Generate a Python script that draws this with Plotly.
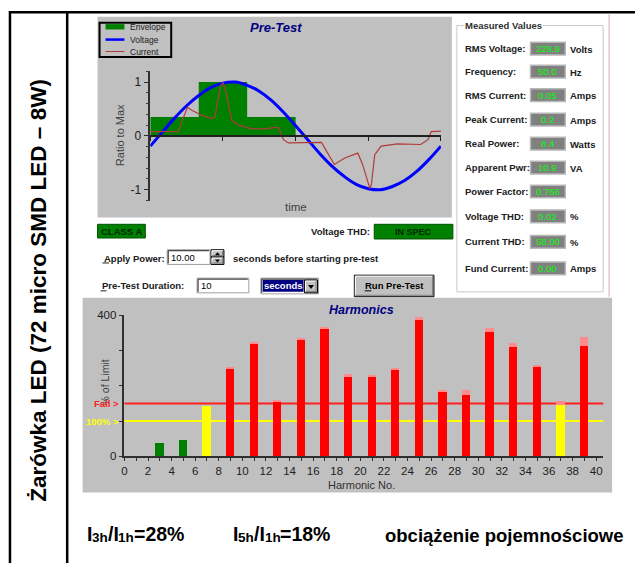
import plotly.graph_objects as go

W, H = 635, 569
SANS = "Liberation Sans, Arial, sans-serif"
NARROW = "Liberation Sans Narrow, Arial Narrow, Liberation Sans, sans-serif"

# ---- Pre-test waveforms: phase angle (deg) vs ratio to max ----
volt_deg = [0, 15, 30, 45, 60, 75, 90, 105, 120, 135, 150, 165, 180,
            195, 210, 225, 240, 255, 270, 285, 300, 315, 330, 345, 360]
volt_ratio = [-0.19, 0.07, 0.33, 0.56, 0.75, 0.90, 0.98, 1.00, 0.94, 0.83, 0.66, 0.44, 0.19,
              -0.07, -0.33, -0.56, -0.75, -0.90, -0.98, -1.00, -0.94, -0.83, -0.66, -0.44, -0.19]
cur_deg = [0, 35, 39, 46, 52, 64, 76, 80, 87, 90, 93, 101, 109, 126, 142, 155, 159, 165,
           171, 191, 212, 228, 241, 257, 263, 272, 274, 278, 286, 306, 335, 344, 348, 360]
cur_ratio = [0.08, 0.08, 0.26, 0.53, 0.47, 0.38, 0.32, 0.35, 0.93, 0.99, 0.87, 0.29, 0.20,
             0.13, 0.13, 0.16, 0.15, -0.07, -0.13, -0.12, -0.12, -0.53, -0.41, -0.32, -0.53,
             -0.98, -0.89, -0.35, -0.19, -0.15, -0.16, -0.07, 0.08, 0.09]
env_deg = [0, 60, 120, 180]
env_ratio = [0.35, 1.00, 0.35, 0.35]

# ---- Harmonic currents as % of class limit (present value and held maximum) ----
harm_no = [3, 5, 7, 9, 11, 13, 15, 17, 19, 21, 23, 25, 27, 29, 31, 33, 35, 37, 39]
harm_pct = [37, 44, 143, 248, 320, 155, 328, 363, 225, 225, 245, 386, 182, 172, 352, 308, 254, 144, 312]
harm_max = [37, 44, 143, 250, 322, 159, 335, 367, 232, 228, 249, 393, 188, 186, 363, 320, 257, 157, 338]
limit_100 = 100
limit_fail = 150

# ---- Measured values panel ----
meas_labels = ["RMS Voltage:", "Frequency:", "RMS Current:", "Peak Current:", "Real Power:",
               "Apparent Pwr:", "Power Factor:", "Voltage THD:", "Current THD:", "Fund Current:"]
meas_values = ["229.9", "50.0", "0.05", "0.2", "8.4", "10.9", "0.766", "0.02", "58.00", "0.00"]
meas_units = ["Volts", "Hz", "Amps", "Amps", "Watts", "VA", "", "%", "%", "Amps"]

# ---- harmonic ratios noted under the chart ----
ratio_order = ["3h", "5h"]
ratio_pct = ["28%", "18%"]

shapes, annos = [], []


def X(x):
    return x / W


def Y(y):
    return 1 - y / H


def rect(x0, y0, x1, y1, fill=None, line=None, lw=1, layer="below"):
    shapes.append(dict(type="rect", xref="paper", yref="paper",
                       x0=X(x0), x1=X(x1), y0=Y(y1), y1=Y(y0),
                       fillcolor=fill or "rgba(0,0,0,0)",
                       line=dict(color=line or "rgba(0,0,0,0)", width=lw if line else 0),
                       layer=layer))


def seg(x0, y0, x1, y1, color, lw=1, layer="above"):
    shapes.append(dict(type="line", xref="paper", yref="paper",
                       x0=X(x0), y0=Y(y0), x1=X(x1), y1=Y(y1),
                       line=dict(color=color, width=lw), layer=layer))


def tri(points, color, layer="above"):
    path = "M " + " L ".join(f"{X(a):.5f},{Y(b):.5f}" for a, b in points) + " Z"
    shapes.append(dict(type="path", xref="paper", yref="paper", path=path,
                       fillcolor=color, line=dict(width=0), layer=layer))


def text(x, y, s, size=9.5, color="#000000", bold=True, anchor="left", family=SANS,
         italic=False, angle=0, bg=None):
    annos.append(dict(x=X(x), y=Y(y), xref="paper", yref="paper", text=s, showarrow=False,
                      xanchor=anchor, yanchor="middle", textangle=angle,
                      bgcolor=bg, borderpad=0,
                      font=dict(family=family, size=size, color=color,
                                weight="bold" if bold else "normal",
                                style="italic" if italic else "normal")))


def raised(x0, y0, x1, y1, fill="#C0C0C0"):
    rect(x0, y0, x1, y1, fill=fill, line="#000000", lw=1)
    seg(x0 + 1, y0 + 1, x1 - 1, y0 + 1, "#FFFFFF")
    seg(x0 + 1, y0 + 1, x0 + 1, y1 - 1, "#FFFFFF")
    seg(x0 + 1, y1 - 1.5, x1 - 1, y1 - 1.5, "#808080")
    seg(x1 - 1.5, y0 + 1, x1 - 1.5, y1 - 1, "#808080")


def sunken(x0, y0, x1, y1, fill="#FFFFFF"):
    rect(x0, y0, x1, y1, fill=fill, line="#A0A0A0", lw=1)
    seg(x0 + 1, y0 + 1, x1 - 1, y0 + 1, "#202020")
    seg(x0 + 1, y0 + 1, x0 + 1, y1 - 1, "#202020")


# Arial-bold advance widths (em) for the glyphs used in the ratio captions
ADV = {"I": 0.278, "/": 0.278, "=": 0.584, "%": 0.889, "h": 0.611,
       "1": 0.556, "2": 0.556, "3": 0.556, "5": 0.556, "8": 0.556}


def adv(s, size):
    return sum(ADV[c] for c in s) * size


def ratio_caption(x, y, order, pct, big=19.5, small=13.5):
    # I_{order}/I_{1h}=pct, with the subscripts set as smaller, lowered runs
    parts = [("I", big, 0), (order, small, 4), ("/I", big, 0), ("1h", small, 4), ("=" + pct, big, 0)]
    for s, sz, dy in parts:
        text(x, y + dy, s, size=sz)
        x += adv(s, sz)


# ---- table frame and row caption ----
seg(6, 6.3, 635, 6.3, "#000000", 2.5)
seg(7, 5, 7, 569, "#000000", 2.5)
seg(64.5, 5, 64.5, 569, "#000000", 2.5)
seg(609, 7.5, 609, 297, "#D8A8A8", 1)
text(36, 290, "Żarówka LED (72 micro SMD LED – 8W)", size=22.5, angle=-90, anchor="center")

# ---- pre-test panel ----
rect(95, 11, 451, 216, fill="#C0C0C0")
text(274, 22, "Pre-Test", size=13, color="#000080", italic=True, anchor="center")
rect(97, 17, 169, 52, line="#000000", lw=2, layer="above")
rect(103, 18.5, 122, 24, fill="#008000", layer="above")
seg(103, 34.3, 122, 34.3, "#0000FF", 2.5)
seg(103, 46.5, 122, 46.5, "#B03A3A", 1)
for ly, lab in [(21.5, "Envelope"), (34.3, "Voltage"), (46.5, "Current")]:
    text(127, ly, lab, size=8.5, color="#202020", bold=False)
text(117.5, 132, "Ratio to Max", size=11, color="#404040", bold=False, angle=-90,
     anchor="center", family=NARROW)
text(294, 205.5, "time", size=11.5, color="#404040", bold=False, anchor="center", family=NARROW)

# ---- pre-test status and controls ----
rect(95, 223, 143, 237, fill="#008000", line="#005000")
text(119, 230, "CLASS A", size=9.5, color="#002800", anchor="center")
text(370, 230.5, "Voltage THD:", size=9.5, color="#202020", anchor="right")
rect(373, 223, 452, 238, fill="#008000", line="#005000")
text(412.5, 230.5, "IN SPEC", size=9, color="#002800", anchor="center")

text(100, 257.5, "Apply Power:", size=9.5, color="#202020")
seg(100, 262.5, 106.5, 262.5, "#202020", 1)
sunken(165, 249, 208, 264)
text(168, 256.5, "10.00", size=9.5, color="#000000", bold=False)
raised(209, 249, 222, 256.5)
raised(209, 256.5, 222, 264)
tri([(213, 254.5), (218, 254.5), (215.5, 251.5)], "#000000")
tri([(213, 259), (218, 259), (215.5, 262)], "#000000")
text(230, 258, "seconds before starting pre-test", size=9.5, color="#202020")

text(98, 286, "Pre-Test Duration:", size=9.5, color="#202020")
seg(98, 291, 104, 291, "#202020", 1)
sunken(195, 278, 247, 293)
text(198, 285.5, "10", size=9.5, color="#000000", bold=False)
sunken(259, 278, 317, 294)
rect(261, 280, 302, 292, fill="#000080")
text(281.5, 286, "seconds", size=9.5, color="#FFFFFF", anchor="center")
raised(303, 280, 316, 293)
tri([(306.5, 285), (312.5, 285), (309.5, 289)], "#000000")
raised(353, 275, 433, 297)
text(393, 286, "Run Pre-Test", size=9.5, color="#000000", anchor="center")
seg(363.5, 291, 370, 291, "#000000", 1)

# ---- measured values group ----
rect(456, 20, 603, 292, line="#C8C8C8", lw=1)
text(463, 20, "Measured Values", size=9.5, color="#303030", bg="#FFFFFF")
row_y = [43.5, 67, 91, 116, 140.5, 165, 189.5, 215, 241, 268]
for ry, lab, val, unit in zip(row_y, meas_labels, meas_values, meas_units):
    text(463, ry, lab, size=9.5, color="#202020")
    rect(530, ry - 6.5, 565, ry + 6.5, fill="#808080", line="#B8B8B8", lw=1.5)
    text(547.5, ry, val, size=9.5, color="#00FF00", bold=False, anchor="center")
    if unit:
        text(569, ry + 0.5, unit, size=9.5, color="#202020")

# ---- harmonics panel ----
rect(80, 298, 612, 497, fill="#C0C0C0")
text(360, 310.5, "Harmonics", size=12.5, color="#000080", italic=True, anchor="center")
text(102, 385, "% of Limit", size=10.5, color="#404040", bold=False, angle=-90,
     anchor="center", family=NARROW)
text(360, 489, "Harmonic No.", size=11, color="#303030", bold=False, anchor="center",
     family=NARROW)
for lvl, lab, col in [(limit_fail, "Fail &gt;", "#FF2020"), (limit_100, "100% &gt;", "#FFFF00")]:
    shapes.append(dict(type="line", xref="x2 domain", yref="y2", x0=0, x1=1, y0=lvl, y1=lvl,
                       line=dict(color=col, width=2), layer="below"))
    annos.append(dict(x=X(119), y=lvl, xref="paper", yref="y2", text=lab, showarrow=False,
                      xanchor="right", yanchor="middle",
                      font=dict(family=NARROW, size=9.5, color=col, weight="bold")))

# ---- bottom row ----
ratio_caption(83, 539, ratio_order[0], ratio_pct[0])
ratio_caption(230, 539, ratio_order[1], ratio_pct[1])
text(383, 541, "obciążenie pojemnościowe", size=18.5)

# ---- traces ----
fig = go.Figure()
fig.add_trace(go.Scatter(x=env_deg, y=env_ratio, mode="lines", fill="tozeroy",
                         fillcolor="#008000", line=dict(shape="hv", width=0, color="#008000"),
                         xaxis="x", yaxis="y", hoverinfo="skip"))
fig.add_trace(go.Scatter(x=volt_deg, y=volt_ratio, mode="lines",
                         line=dict(shape="spline", width=3, color="#0000FF"),
                         xaxis="x", yaxis="y"))
fig.add_trace(go.Scatter(x=cur_deg, y=cur_ratio, mode="lines",
                         line=dict(width=1.2, color="#B03A3A"), xaxis="x", yaxis="y"))

bar_colors = ["#008000" if p < limit_100 else ("#FFFF00" if p < limit_fail else "#FF0000")
              for p in harm_pct]
fig.add_trace(go.Bar(x=harm_no, y=harm_pct, width=0.7, marker=dict(color=bar_colors, line=dict(width=0)),
                     xaxis="x2", yaxis="y2"))
fig.add_trace(go.Bar(x=harm_no, y=[m - p for m, p in zip(harm_max, harm_pct)], base=harm_pct,
                     width=0.7, marker=dict(color="#FF8C8C", line=dict(width=0)),
                     xaxis="x2", yaxis="y2"))

axis_font = dict(family=NARROW, size=11.5, color="#202020")
unit_px = 11.85
fig.update_layout(
    width=W, height=H, autosize=False, margin=dict(l=0, r=0, t=0, b=0),
    paper_bgcolor="#FFFFFF", plot_bgcolor="rgba(0,0,0,0)",
    showlegend=False, barmode="overlay", bargap=0,
    xaxis=dict(domain=[X(148), X(440)], range=[0, 360], anchor="free", position=Y(132.7),
               showline=True, linecolor="#202020", linewidth=1.5, ticks="outside",
               tick0=0, dtick=90, ticklen=4, tickcolor="#202020", showticklabels=False,
               showgrid=False, zeroline=False, fixedrange=True),
    yaxis=dict(domain=[Y(198.7), Y(66.7)], range=[-1.2, 1.2], anchor="x",
               showline=True, linecolor="#303030", linewidth=1.5, ticks="outside",
               tickvals=[-1, 0, 1], ticktext=["-1", "0", "1"], ticklen=5,
               tickcolor="#303030", tickfont=dict(family=NARROW, size=12, color="#202020"),
               showgrid=False, zeroline=False,
               minor=dict(tickmode="linear", tick0=-1.2, dtick=0.2, ticks="outside",
                          ticklen=3, tickcolor="#404040", showgrid=False)),
    xaxis2=dict(domain=[X(122), X(122 + 40.6 * unit_px)], range=[0, 40.6], anchor="y2",
                showline=True, linecolor="#303030", linewidth=1.5, ticks="outside",
                tickmode="linear", tick0=0, dtick=2, ticklen=3, tickcolor="#303030",
                tickfont=axis_font, showgrid=False, zeroline=False,
                minor=dict(tickmode="linear", tick0=0, dtick=1, ticks="outside", ticklen=3,
                           tickcolor="#303030", showgrid=False)),
    yaxis2=dict(domain=[Y(460), Y(316)], range=[0, 400], anchor="x2",
                showline=True, linecolor="#303030", linewidth=1.5, ticks="outside",
                tickvals=[0, 400], ticktext=["0", "400"],
                ticklen=4, tickcolor="#303030", tickfont=axis_font,
                minor=dict(tickmode="linear", tick0=0, dtick=100, ticks="outside",
                           ticklen=4, tickcolor="#303030", showgrid=False),
                showgrid=False, zeroline=False),
    shapes=shapes, annotations=annos,
)

fig.write_html("out.html")
